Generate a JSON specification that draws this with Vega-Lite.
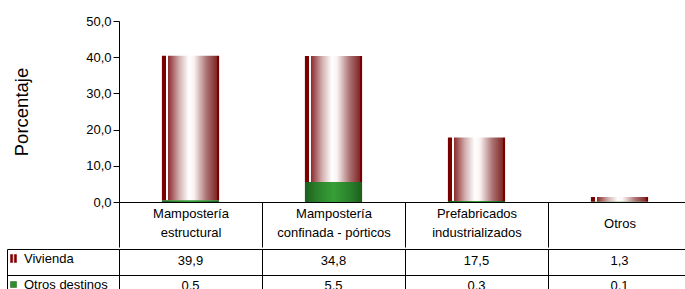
{
  "$schema": "https://vega.github.io/schema/vega-lite/v6.json",
  "padding": {"left": 6, "top": 15, "right": 0, "bottom": 0},
  "spacing": 0,
  "config": {
    "locale": {"number": {"decimal": ",", "thousands": ".", "grouping": [3], "currency": ["", " €"]}},
    "font": "Liberation Sans",
    "view": {"stroke": null},
    "axis": {"domainColor": "#000", "tickColor": "#000", "labelColor": "#000", "titleColor": "#000", "labelFont": "Liberation Sans", "titleFont": "Liberation Sans", "labelFontSize": 13, "domainWidth": 1, "tickWidth": 1, "gridColor": "#000", "gridOpacity": 1, "gridWidth": 1}
  },
  "data": {
    "values": [
      {"categoria": "Mampostería estructural", "serie": "Vivienda", "valor": 39.9},
      {"categoria": "Mampostería confinada - pórticos", "serie": "Vivienda", "valor": 34.8},
      {"categoria": "Prefabricados industrializados", "serie": "Vivienda", "valor": 17.5},
      {"categoria": "Otros", "serie": "Vivienda", "valor": 1.3},
      {"categoria": "Mampostería estructural", "serie": "Otros destinos", "valor": 0.5},
      {"categoria": "Mampostería confinada - pórticos", "serie": "Otros destinos", "valor": 5.5},
      {"categoria": "Prefabricados industrializados", "serie": "Otros destinos", "valor": 0.3},
      {"categoria": "Otros", "serie": "Otros destinos", "valor": 0.1}
    ]
  },
  "vconcat": [
    {
      "width": 572,
      "height": 181,
      "mark": {"type": "bar", "width": {"band": 0.4}},
      "encoding": {
        "x": {
          "field": "categoria", "type": "nominal", "sort": null,
          "scale": {"paddingInner": 0, "paddingOuter": 0},
          "axis": {
            "title": null, "labelAngle": 0, "tickBand": "extent", "tickSize": 45,
            "labelPadding": {"condition": {"test": "datum.value === 'Otros'", "value": -24}, "value": -34},
            "labelBaseline": "middle", "labelFontSize": 13,
            "labelLineHeight": 19,
            "labelExpr": "datum.value === 'Mampostería estructural' ? ['Mampostería', 'estructural'] : datum.value === 'Mampostería confinada - pórticos' ? ['Mampostería', 'confinada - pórticos'] : datum.value === 'Prefabricados industrializados' ? ['Prefabricados', 'industrializados'] : datum.label"
          }
        },
        "y": {
          "field": "valor", "type": "quantitative", "stack": "zero",
          "scale": {"domain": [0, 50], "nice": false},
          "axis": {
            "title": "Porcentaje", "titleFontSize": 18.5, "titleFontWeight": "normal",
            "values": [0, 10, 20, 30, 40, 50], "format": ".1f", "grid": false,
            "tickSize": 6, "labelPadding": 2, "titlePadding": 54
          }
        },
        "order": {"field": "serie", "type": "nominal", "sort": "ascending"},
        "color": {
          "field": "serie", "type": "nominal",
          "scale": {"domain": ["Vivienda", "Otros destinos"], "range": ["#800000", "#2e8b2e"]},
          "condition": [
            {"test": "datum.serie === 'Vivienda'", "value": {
              "gradient": "linear", "x1": 0, "y1": 0, "x2": 1, "y2": 0,
              "stops": [
                {"offset": 0, "color": "#7a0000"},
                {"offset": 0.075, "color": "#7a0000"},
                {"offset": 0.076, "color": "#ffffff"},
                {"offset": 0.1, "color": "#ffffff"},
                {"offset": 0.101, "color": "#8a2626"},
                {"offset": 0.3, "color": "#d2aeae"},
                {"offset": 0.47, "color": "#ffffff"},
                {"offset": 0.56, "color": "#fbf3f3"},
                {"offset": 0.78, "color": "#ab7272"},
                {"offset": 0.955, "color": "#822a2a"},
                {"offset": 0.956, "color": "#7a0000"},
                {"offset": 1, "color": "#7a0000"}
              ]
            }},
            {"test": "datum.serie === 'Otros destinos'", "value": {
              "gradient": "linear", "x1": 0, "y1": 0, "x2": 1, "y2": 0,
              "stops": [
                {"offset": 0, "color": "#1c5e1c"},
                {"offset": 0.2, "color": "#2a7f2a"},
                {"offset": 0.5, "color": "#37a037"},
                {"offset": 0.8, "color": "#2a7f2a"},
                {"offset": 1, "color": "#1c5e1c"}
              ]
            }}
          ],
          "legend": {
            "title": null, "orient": "none", "legendX": -112, "legendY": 231,
            "labelFont": "Liberation Sans", "labelFontSize": 13, "labelColor": "#000",
            "rowPadding": 12, "labelOffset": 4, "symbolStrokeWidth": 0,
            "encode": {
              "symbols": {"update": {
                "shape": {"signal": "datum.value === 'Vivienda' ? 'M-0.75,-1H-0.2V1H-0.75ZM0.2,-1H0.75V1H0.2Z' : 'square'"},
                "size": {"signal": "datum.value === 'Vivienda' ? 64 : 36"},
                "fill": {"signal": "datum.value === 'Vivienda' ? '#800000' : '#2e8b2e'"},
                "stroke": {"signal": "datum.value === 'Vivienda' ? '#800000' : '#1c5e1c'"},
                "strokeWidth": {"value": 0.5}
              }}
            }
          }
        }
      }
    },
    {
      "width": 572,
      "height": 51,
      "mark": {"type": "text", "font": "Liberation Sans", "fontSize": 13, "color": "#000", "baseline": "middle", "dy": -1},
      "encoding": {
        "x": {
          "field": "categoria", "type": "nominal", "sort": null,
          "scale": {"paddingInner": 0, "paddingOuter": 0},
          "axis": {"title": null, "orient": "top", "domain": false, "ticks": false, "labels": false, "grid": true, "tickBand": "extent"}
        },
        "y": {
          "field": "serie", "type": "nominal",
          "scale": {"domain": ["Vivienda", "Otros destinos"], "paddingInner": 0, "paddingOuter": 0},
          "axis": {"title": null, "labels": false, "grid": true, "tickBand": "extent", "offset": 112, "tickSize": -112, "domain": true}
        },
        "text": {"field": "valor", "type": "quantitative", "format": ".1f"}
      }
    }
  ]
}
